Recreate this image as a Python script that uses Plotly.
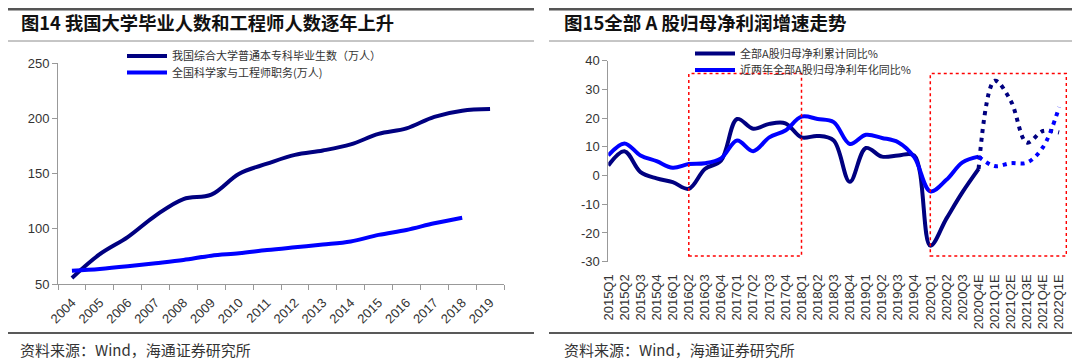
import plotly.graph_objects as go

# The page body has an 8px margin, so the figure is drawn 8px smaller and
# every window-pixel position below is shifted by that offset.
WIN_W, WIN_H = 1080, 359
OFF = 8
W, H = WIN_W - OFF, WIN_H - OFF

# ---------------- data: left chart ----------------
years = [str(y) for y in range(2004, 2020)]
graduates = [55.5, 77, 92.5, 112, 127, 131, 150, 159, 167, 171, 176.5, 186, 191, 201.5, 207, 208.5]
engineers = [62, 63.6, 66, 68.8, 71.8, 75.7, 77.8, 80.8, 83.3, 85.7, 88.5, 94.5, 99, 105, 110]
left_yticks = [50, 100, 150, 200, 250]

# ---------------- data: right chart ----------------
quarters = ["2015Q1", "2015Q2", "2015Q3", "2015Q4",
            "2016Q1", "2016Q2", "2016Q3", "2016Q4",
            "2017Q1", "2017Q2", "2017Q3", "2017Q4",
            "2018Q1", "2018Q2", "2018Q3", "2018Q4",
            "2019Q1", "2019Q2", "2019Q3", "2019Q4",
            "2020Q1", "2020Q2", "2020Q3", "2020Q4E",
            "2021Q1E", "2021Q2E", "2021Q3E", "2021Q4E", "2022Q1E"]
cum_yoy = [3.5, 8.5, 1.2, -1.0, -2.3, -4.6, 2.3, 5.2, 19.7, 16.3, 18.0, 18.2, 13.3, 13.8,
           12.2, -2.2, 9.6, 6.6, 7.0, 7.0, -24.4, -15.0, -5.8, 2.3, 33.0, 26.0, 11.5, 15.5, 15.0]
two_year = [7.0, 11.2, 7.0, 5.0, 2.7, 4.0, 4.3, 6.0, 12.2, 8.5, 13.3, 15.7, 20.5, 19.7,
            18.6, 11.0, 14.2, 13.1, 11.6, 6.4, -5.5, -1.5, 4.6, 6.6, 3.3, 4.3, 4.5, 9.9, 23.8]
forecast_start = "2020Q4E"
right_yticks = [-30, -20, -10, 0, 10, 20, 30, 40]
highlight_boxes = [("2016Q2", "2018Q1", 0.0), ("2020Q1", "2022Q1E", 0.45)]
highlight_y = (-28, 35.5)

NAVY = "#000080"
BLUE = "#0000FF"
AXC = "#999999"
TXT = "#333333"
LAT = "Liberation Sans, Arial, Noto Sans CJK SC"
CJK = "Noto Sans CJK SC, Liberation Sans"


def fx(p):
    return (p - OFF) / W


def fy(p):
    return 1 - (p - OFF) / H


fig = go.Figure()

# left chart traces
fig.add_trace(go.Scatter(x=years, y=graduates, mode="lines", name="我国综合大学普通本专科毕业生数（万人）",
                         line=dict(color=NAVY, width=4, shape="spline"), xaxis="x", yaxis="y", legend="legend"))
fig.add_trace(go.Scatter(x=years[:len(engineers)], y=engineers, mode="lines", name="全国科学家与工程师职务(万人)",
                         line=dict(color=BLUE, width=4, shape="spline"), xaxis="x", yaxis="y", legend="legend2"))

# right chart traces
k = quarters.index(forecast_start)
n = len(quarters)
fig.add_trace(go.Scatter(x=quarters[:k + 1], y=cum_yoy[:k + 1], mode="lines", name="全部A股归母净利累计同比%",
                         line=dict(color=NAVY, width=4, shape="spline"), xaxis="x2", yaxis="y2", legend="legend3"))
fig.add_trace(go.Scatter(x=quarters[:k + 1], y=two_year[:k + 1], mode="lines", name="近两年全部A股归母净利年化同比%",
                         line=dict(color=BLUE, width=4, shape="spline"), xaxis="x2", yaxis="y2", legend="legend4"))
fig.add_trace(go.Scatter(x=quarters[k:], y=cum_yoy[k:], mode="lines", showlegend=False,
                         line=dict(color=NAVY, width=4, shape="spline", dash="4px,5px"), xaxis="x2", yaxis="y2"))
fig.add_trace(go.Scatter(x=quarters[k:], y=two_year[k:], mode="lines", showlegend=False,
                         line=dict(color=BLUE, width=4, shape="spline", dash="4px,5px"), xaxis="x2", yaxis="y2"))

# domains (window pixels -> figure fractions)
L_dom_x = [fx(58), fx(504)]
L_dom_y = [fy(284), fy(63.3)]
step = 16.1
R_x0 = 608.3
R_dom_x = [fx(R_x0), fx(R_x0 + 28.5 * step)]
R_dom_y = [fy(261.7), fy(60.7)]
R_zero_dom_x = [fx(R_x0), fx(R_x0 + 28 * step)]
zero_pos = R_dom_y[0] + (0 - right_yticks[0]) / (right_yticks[-1] - right_yticks[0]) * (R_dom_y[1] - R_dom_y[0])

tickfont = dict(family=LAT, size=13, color=TXT)

fig.update_layout(
    width=W, height=H,
    margin=dict(l=0, r=0, t=0, b=0, pad=0, autoexpand=False),
    paper_bgcolor="white", plot_bgcolor="rgba(0,0,0,0)",
    xaxis=dict(domain=L_dom_x, anchor="y", type="category", categoryorder="array", categoryarray=years,
               range=[-0.5, len(years) - 0.5], tickson="boundaries", ticks="outside", ticklen=5,
               tickcolor=AXC, showline=True, linecolor=AXC, linewidth=1, showgrid=False,
               tickmode="array", tickvals=years, ticklabelstandoff=5,
               tickangle=-45, tickfont=tickfont, zeroline=False, automargin=False),
    yaxis=dict(domain=L_dom_y, anchor="x", range=[50, 250], tickvals=left_yticks,
               ticks="outside", ticklen=5, tickcolor=AXC, showline=True, linecolor=AXC,
               showgrid=False, zeroline=False, tickfont=tickfont, automargin=False),
    xaxis2=dict(domain=R_dom_x, anchor="y2", type="category", categoryorder="array", categoryarray=quarters,
                range=[0, 28.5], ticks="", showline=False, showgrid=False, zeroline=False,
                tickmode="array", tickvals=quarters,
                tickangle=-90, tickfont=tickfont, ticklabelstandoff=9, automargin=False),
    yaxis2=dict(domain=R_dom_y, anchor="x2", range=[right_yticks[0], right_yticks[-1]],
                tickvals=right_yticks, ticktext=[str(v) for v in right_yticks],
                ticks="outside", ticklen=5, tickcolor=AXC, showline=True, linecolor=AXC,
                showgrid=False, zeroline=False, tickfont=tickfont, automargin=False),
    xaxis3=dict(domain=R_zero_dom_x, anchor="free", position=zero_pos, overlaying="x2",
                range=[0, n - 1], tick0=0, dtick=1, ticks="outside", ticklen=4, tickcolor=AXC,
                showticklabels=False, showline=True, linecolor=AXC, linewidth=2, showgrid=False,
                zeroline=False, automargin=False),
)

leg_common = dict(bgcolor="rgba(0,0,0,0)", borderwidth=0, xanchor="left", yanchor="middle",
                  itemwidth=40, font=dict(family=CJK, size=11, color=TXT))
fig.update_layout(
    legend=dict(x=fx(122), y=fy(56), **leg_common),
    legend2=dict(x=fx(122), y=fy(72.5), **leg_common),
    legend3=dict(x=fx(690), y=fy(53.5), **leg_common),
    legend4=dict(x=fx(690), y=fy(70), **leg_common),
)

# highlight boxes
for a, b, pad in highlight_boxes:
    fig.add_shape(type="rect", xref="x2", yref="y2",
                  x0=quarters.index(a), x1=quarters.index(b) + pad,
                  y0=highlight_y[0], y1=highlight_y[1],
                  line=dict(color="#FF0000", width=1.5, dash="dot"), fillcolor="rgba(0,0,0,0)", layer="above")

# decorative rules
for x0, x1 in [(8, 534), (549, 1077)]:
    fig.add_shape(type="line", xref="paper", yref="paper", x0=fx(x0), x1=fx(x1), y0=fy(9.3), y1=fy(9.3),
                  line=dict(color="#555555", width=2.5))
    fig.add_shape(type="line", xref="paper", yref="paper", x0=fx(x0), x1=fx(x1), y0=fy(41), y1=fy(41),
                  line=dict(color="#8c8c8c", width=1))
    fig.add_shape(type="line", xref="paper", yref="paper", x0=fx(x0), x1=fx(x1), y0=fy(333), y1=fy(333),
                  line=dict(color="#222222", width=1.5))

titles = [("图14 我国大学毕业人数和工程师人数逐年上升", 19, 18.3), ("图15全部 A 股归母净利润增速走势", 562, 18.5)]
for t, x, s in titles:
    fig.add_annotation(text="<b>" + t + "</b>", x=fx(x), y=fy(22), xref="paper", yref="paper",
                       xanchor="left", yanchor="middle", showarrow=False,
                       font=dict(family=CJK, size=s, color="#111111"))
for x in (18, 562):
    fig.add_annotation(text="资料来源：Wind，海通证券研究所", x=fx(x), y=fy(349), xref="paper", yref="paper",
                       xanchor="left", yanchor="middle", showarrow=False,
                       font=dict(family=CJK, size=15, color=TXT))

fig.write_html("out.html")
